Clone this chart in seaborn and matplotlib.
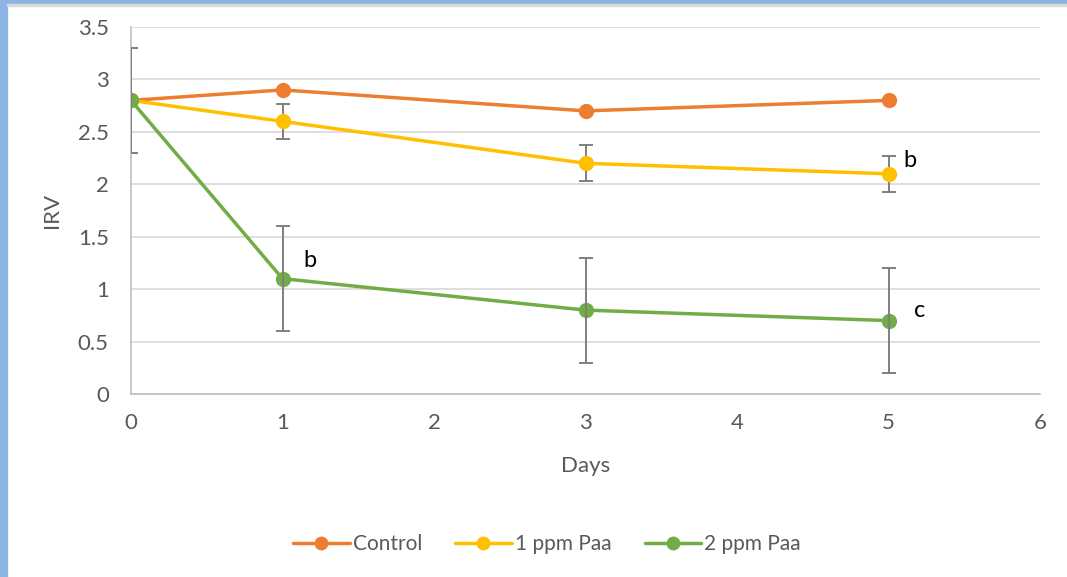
import matplotlib
matplotlib.use("Agg")
import matplotlib.pyplot as plt
from matplotlib.patches import Rectangle
import seaborn as sns
import pandas as pd

days = [0, 1, 3, 5]
control = [2.8, 2.9, 2.7, 2.8]
ppm1 = [2.8, 2.6, 2.2, 2.1]
ppm2 = [2.8, 1.1, 0.8, 0.7]
ppm1_err = [0.0, 0.17, 0.17, 0.17]
ppm2_err = [0.5, 0.5, 0.5, 0.5]
series_names = ["Control", "1 ppm Paa", "2 ppm Paa"]
colors = ["#ED7D31", "#FFC000", "#70AD47"]
annotations = [(1.14, 1.27, "b"), (5.1, 2.23, "b"), (5.17, 0.8, "c")]

sns.set_theme(style="white")
plt.rcParams["font.family"] = ["Lato", "DejaVu Sans"]

df = pd.DataFrame({
    "Days": days * 3,
    "IRV": control + ppm1 + ppm2,
    "Series": [s for s in series_names for _ in days],
})

fig = plt.figure(figsize=(10.67, 5.77), dpi=100)
ax = fig.add_axes([131/1067, 1-394/577, (1040-131)/1067, (394-27)/577])

pal = dict(zip(series_names, colors))
sns.lineplot(data=df, x="Days", y="IRV", hue="Series", palette=pal, marker="o",
             markersize=11, markeredgewidth=0, linewidth=2.5, ax=ax, legend=True,
             zorder=2)

ax.errorbar(days, ppm2, yerr=ppm2_err, fmt="none", ecolor="#7f7f7f", elinewidth=1.4,
            capsize=5, capthick=1.4, zorder=4)
ax.errorbar(days, ppm1, yerr=ppm1_err, fmt="none", ecolor="#7f7f7f", elinewidth=1.4,
            capsize=5, capthick=1.4, zorder=1.5)

for x, y, t in annotations:
    ax.text(x, y, t, fontsize=17, color="black", ha="left", va="center")

ax.set_xlim(0, 6)
ax.set_ylim(0, 3.5)
ax.set_xticks(range(0, 7))
ax.set_yticks([0, 0.5, 1, 1.5, 2, 2.5, 3, 3.5])
ax.set_yticklabels(["0", "0.5", "1", "1.5", "2", "2.5", "3", "3.5"])
ax.yaxis.grid(True, color="#d9d9d9", linewidth=1.2)
ax.set_axisbelow(True)
for s in ["top", "right"]:
    ax.spines[s].set_visible(False)
for s in ["left", "bottom"]:
    ax.spines[s].set_color("#bfbfbf")
    ax.spines[s].set_linewidth(1.2)
ax.tick_params(axis="both", length=0, colors="#595959")
for lbl in ax.get_xticklabels() + ax.get_yticklabels():
    lbl.set_fontsize(16)
ax.tick_params(axis="y", pad=16)
ax.tick_params(axis="x", pad=14)
ax.set_xlabel("Days", fontsize=16, color="#595959", labelpad=16)
ax.set_ylabel("IRV", fontsize=16, color="#595959", labelpad=11)

handles, labels = ax.get_legend_handles_labels()
for h in handles:
    h.set_markersize(10)
ax.legend(handles, labels, loc="center", bbox_to_anchor=(547/1067, 1-544/577),
          bbox_transform=fig.transFigure, ncol=3, frameon=False, fontsize=15,
          labelcolor="#595959", handlelength=2.7, handletextpad=0.15, columnspacing=1.6)

fig.patches.append(Rectangle((0, 0), 7/1067, 1, transform=fig.transFigure,
                             color="#8db3e2", zorder=0))
fig.patches.append(Rectangle((0, 1-4/577), 1, 4/577, transform=fig.transFigure,
                             color="#8db3e2", zorder=0))
fig.patches.append(Rectangle((7/1067, 1-6/577), 1, 2/577, transform=fig.transFigure,
                             color="#d9d9d9", zorder=0))

fig.savefig("out.png", dpi=100)
